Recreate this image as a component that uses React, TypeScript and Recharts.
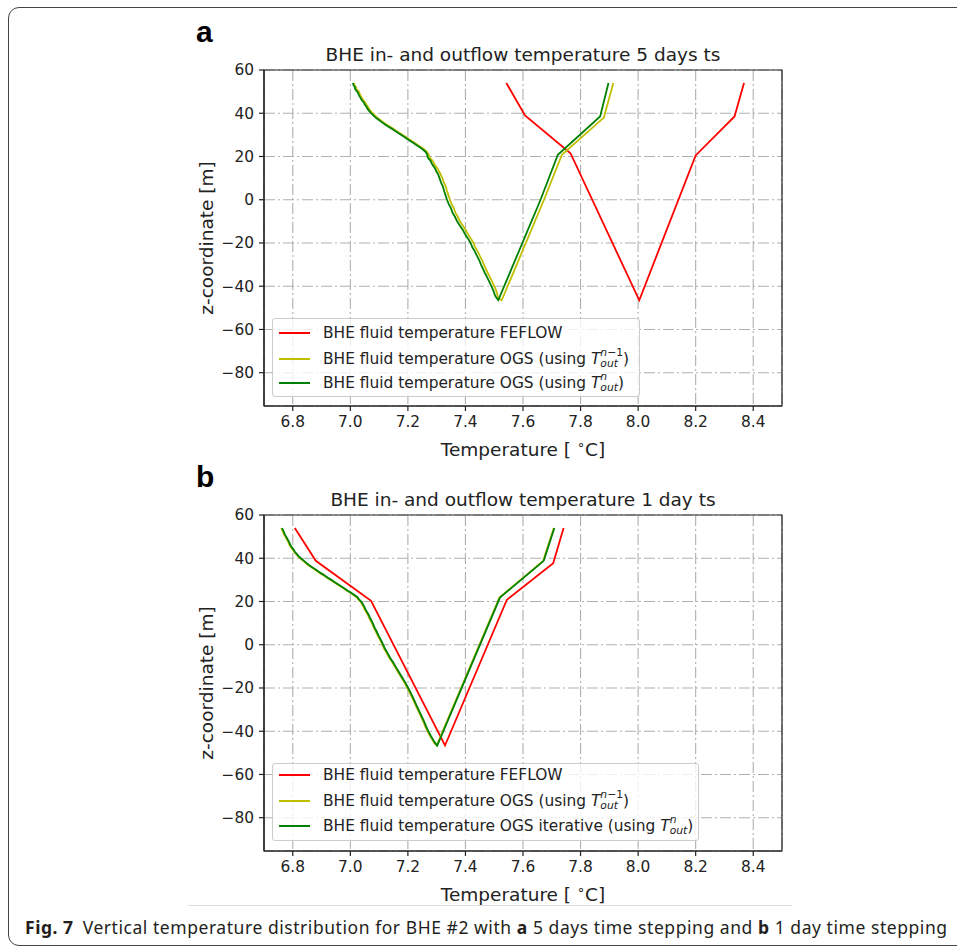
import React from 'react';
import { LineChart, Line, XAxis, YAxis, CartesianGrid, ReferenceArea } from 'recharts';

const xTicks = [6.8, 7.0, 7.2, 7.4, 7.6, 7.8, 8.0, 8.2, 8.4];
const yTicks = [-80, -60, -40, -20, 0, 20, 40, 60];
const xDomain = [6.7, 8.5];
const yDomain = [-95.4, 60];

// Panel a (5 days ts)
const feflowA = [
  { t: 7.542, z: 54 }, { t: 7.607, z: 39 }, { t: 7.765, z: 21.5 }, { t: 8.004, z: -46.5 },
  { t: 8.2, z: 20.5 }, { t: 8.335, z: 38.5 }, { t: 8.368, z: 54 },
];
const ogsIterA = [
  { t: 7.009, z: 54 }, { t: 7.011, z: 53 }, { t: 7.016, z: 52 }, { t: 7.017, z: 51 }, { t: 7.024, z: 50 },
  { t: 7.028, z: 49 }, { t: 7.031, z: 48 }, { t: 7.036, z: 47 }, { t: 7.04, z: 46 }, { t: 7.047, z: 45 },
  { t: 7.05, z: 44 }, { t: 7.056, z: 43 }, { t: 7.06, z: 42 }, { t: 7.066, z: 41 }, { t: 7.072, z: 40 },
  { t: 7.08, z: 39 }, { t: 7.088, z: 38 }, { t: 7.098, z: 37 }, { t: 7.108, z: 36 }, { t: 7.118, z: 35 },
  { t: 7.13, z: 34 }, { t: 7.142, z: 33 }, { t: 7.153, z: 32 }, { t: 7.165, z: 31 }, { t: 7.176, z: 30 },
  { t: 7.188, z: 29 }, { t: 7.199, z: 28 }, { t: 7.21, z: 27 }, { t: 7.222, z: 26 }, { t: 7.233, z: 25 },
  { t: 7.244, z: 24 }, { t: 7.254, z: 23 }, { t: 7.262, z: 22 }, { t: 7.267, z: 21 }, { t: 7.268, z: 20 },
  { t: 7.272, z: 19 }, { t: 7.279, z: 18 }, { t: 7.282, z: 17 }, { t: 7.286, z: 16 }, { t: 7.292, z: 15 },
  { t: 7.296, z: 14 }, { t: 7.299, z: 13 }, { t: 7.304, z: 12 }, { t: 7.307, z: 11 }, { t: 7.31, z: 10 },
  { t: 7.315, z: 8 }, { t: 7.322, z: 6 }, { t: 7.326, z: 4 }, { t: 7.331, z: 2 }, { t: 7.336, z: 0 },
  { t: 7.342, z: -2 }, { t: 7.35, z: -4 }, { t: 7.355, z: -6 }, { t: 7.364, z: -8 }, { t: 7.371, z: -10 },
  { t: 7.381, z: -12 }, { t: 7.391, z: -14 }, { t: 7.399, z: -16 }, { t: 7.409, z: -18 }, { t: 7.418, z: -20 },
  { t: 7.424, z: -22 }, { t: 7.433, z: -24 }, { t: 7.44, z: -26 }, { t: 7.448, z: -28 }, { t: 7.454, z: -30 },
  { t: 7.461, z: -32 }, { t: 7.468, z: -34 }, { t: 7.476, z: -36 }, { t: 7.483, z: -38 }, { t: 7.49, z: -40 },
  { t: 7.497, z: -42 }, { t: 7.502, z: -44 }, { t: 7.506, z: -45 }, { t: 7.514, z: -46.5 },
  { t: 7.661, z: 0 }, { t: 7.721, z: 20.8 }, { t: 7.868, z: 38.5 }, { t: 7.897, z: 54 },
];
const ogsPrevA = [
  { t: 7.012, z: 54 }, { t: 7.015, z: 53 }, { t: 7.02, z: 52 }, { t: 7.022, z: 51 }, { t: 7.029, z: 50 },
  { t: 7.033, z: 49 }, { t: 7.036, z: 48 }, { t: 7.041, z: 47 }, { t: 7.045, z: 46 }, { t: 7.052, z: 45 },
  { t: 7.055, z: 44 }, { t: 7.061, z: 43 }, { t: 7.065, z: 42 }, { t: 7.071, z: 41 }, { t: 7.077, z: 40 },
  { t: 7.085, z: 39 }, { t: 7.093, z: 38 }, { t: 7.103, z: 37 }, { t: 7.113, z: 36 }, { t: 7.123, z: 35 },
  { t: 7.135, z: 34 }, { t: 7.147, z: 33 }, { t: 7.158, z: 32 }, { t: 7.17, z: 31 }, { t: 7.181, z: 30 },
  { t: 7.193, z: 29 }, { t: 7.204, z: 28 }, { t: 7.215, z: 27 }, { t: 7.227, z: 26 }, { t: 7.238, z: 25 },
  { t: 7.249, z: 24 }, { t: 7.259, z: 23 }, { t: 7.267, z: 22 }, { t: 7.272, z: 21 }, { t: 7.274, z: 20 },
  { t: 7.279, z: 19 }, { t: 7.286, z: 18 }, { t: 7.29, z: 17 }, { t: 7.294, z: 16 }, { t: 7.3, z: 15 },
  { t: 7.305, z: 14 }, { t: 7.308, z: 13 }, { t: 7.313, z: 12 }, { t: 7.316, z: 11 }, { t: 7.32, z: 10 },
  { t: 7.325, z: 8 }, { t: 7.332, z: 6 }, { t: 7.336, z: 4 }, { t: 7.341, z: 2 }, { t: 7.346, z: 0 },
  { t: 7.352, z: -2 }, { t: 7.36, z: -4 }, { t: 7.365, z: -6 }, { t: 7.374, z: -8 }, { t: 7.381, z: -10 },
  { t: 7.391, z: -12 }, { t: 7.401, z: -14 }, { t: 7.409, z: -16 }, { t: 7.419, z: -18 }, { t: 7.428, z: -20 },
  { t: 7.434, z: -22 }, { t: 7.443, z: -24 }, { t: 7.45, z: -26 }, { t: 7.458, z: -28 }, { t: 7.464, z: -30 },
  { t: 7.471, z: -32 }, { t: 7.478, z: -34 }, { t: 7.486, z: -36 }, { t: 7.493, z: -38 }, { t: 7.5, z: -40 },
  { t: 7.507, z: -42 }, { t: 7.511, z: -44 }, { t: 7.514, z: -45.5 }, { t: 7.526, z: -46.5 },
  { t: 7.673, z: 0 }, { t: 7.735, z: 20.8 }, { t: 7.881, z: 38 }, { t: 7.914, z: 54 },
];

// Panel b (1 day ts)
const feflowB = [
  { t: 6.807, z: 54 }, { t: 6.88, z: 38.8 }, { t: 7.072, z: 20.3 }, { t: 7.329, z: -46.6 },
  { t: 7.544, z: 20.8 }, { t: 7.705, z: 37.7 }, { t: 7.741, z: 54 },
];
const ogsIterB = [
  { t: 6.763, z: 54 }, { t: 6.766, z: 53 }, { t: 6.77, z: 52 }, { t: 6.772, z: 51 }, { t: 6.777, z: 50 },
  { t: 6.781, z: 49 }, { t: 6.785, z: 48 }, { t: 6.789, z: 47 }, { t: 6.792, z: 46 }, { t: 6.797, z: 45 },
  { t: 6.803, z: 44 }, { t: 6.807, z: 43 }, { t: 6.814, z: 42 }, { t: 6.82, z: 41 }, { t: 6.828, z: 40 },
  { t: 6.837, z: 39 }, { t: 6.846, z: 38 }, { t: 6.855, z: 37 }, { t: 6.866, z: 36 }, { t: 6.877, z: 35 },
  { t: 6.888, z: 34 }, { t: 6.899, z: 33 }, { t: 6.911, z: 32 }, { t: 6.922, z: 31 }, { t: 6.934, z: 30 },
  { t: 6.945, z: 29 }, { t: 6.957, z: 28 }, { t: 6.968, z: 27 }, { t: 6.98, z: 26 }, { t: 6.991, z: 25 },
  { t: 7.003, z: 24 }, { t: 7.014, z: 23 }, { t: 7.025, z: 22 }, { t: 7.03, z: 21 }, { t: 7.038, z: 20 },
  { t: 7.047, z: 18 }, { t: 7.054, z: 16 }, { t: 7.063, z: 14 }, { t: 7.07, z: 12 }, { t: 7.078, z: 10 },
  { t: 7.084, z: 8 }, { t: 7.092, z: 6 }, { t: 7.099, z: 4 }, { t: 7.107, z: 2 }, { t: 7.114, z: 0 },
  { t: 7.121, z: -2 }, { t: 7.13, z: -4 }, { t: 7.138, z: -6 }, { t: 7.148, z: -8 }, { t: 7.157, z: -10 },
  { t: 7.166, z: -12 }, { t: 7.175, z: -14 }, { t: 7.184, z: -16 }, { t: 7.193, z: -18 }, { t: 7.201, z: -20 },
  { t: 7.209, z: -22 }, { t: 7.216, z: -24 }, { t: 7.223, z: -26 }, { t: 7.23, z: -28 }, { t: 7.237, z: -30 },
  { t: 7.244, z: -32 }, { t: 7.251, z: -34 }, { t: 7.258, z: -36 }, { t: 7.264, z: -38 }, { t: 7.271, z: -40 },
  { t: 7.279, z: -42 }, { t: 7.288, z: -44 }, { t: 7.295, z: -45.5 }, { t: 7.302, z: -46.6 },
  { t: 7.52, z: 21.8 }, { t: 7.672, z: 38.8 }, { t: 7.709, z: 54 },
];
const ogsPrevB = [
  { t: 6.76, z: 54 }, { t: 6.763, z: 53 }, { t: 6.767, z: 52 }, { t: 6.769, z: 51 }, { t: 6.774, z: 50 },
  { t: 6.778, z: 49 }, { t: 6.782, z: 48 }, { t: 6.786, z: 47 }, { t: 6.789, z: 46 }, { t: 6.794, z: 45 },
  { t: 6.8, z: 44 }, { t: 6.804, z: 43 }, { t: 6.811, z: 42 }, { t: 6.817, z: 41 }, { t: 6.825, z: 40 },
  { t: 6.834, z: 39 }, { t: 6.843, z: 38 }, { t: 6.852, z: 37 }, { t: 6.863, z: 36 }, { t: 6.874, z: 35 },
  { t: 6.885, z: 34 }, { t: 6.896, z: 33 }, { t: 6.908, z: 32 }, { t: 6.919, z: 31 }, { t: 6.931, z: 30 },
  { t: 6.942, z: 29 }, { t: 6.954, z: 28 }, { t: 6.965, z: 27 }, { t: 6.977, z: 26 }, { t: 6.988, z: 25 },
  { t: 7.0, z: 24 }, { t: 7.011, z: 23 }, { t: 7.022, z: 22 }, { t: 7.027, z: 21 }, { t: 7.035, z: 20 },
  { t: 7.044, z: 18 }, { t: 7.051, z: 16 }, { t: 7.06, z: 14 }, { t: 7.067, z: 12 }, { t: 7.075, z: 10 },
  { t: 7.081, z: 8 }, { t: 7.089, z: 6 }, { t: 7.096, z: 4 }, { t: 7.104, z: 2 }, { t: 7.111, z: 0 },
  { t: 7.118, z: -2 }, { t: 7.127, z: -4 }, { t: 7.135, z: -6 }, { t: 7.145, z: -8 }, { t: 7.154, z: -10 },
  { t: 7.163, z: -12 }, { t: 7.172, z: -14 }, { t: 7.181, z: -16 }, { t: 7.19, z: -18 }, { t: 7.198, z: -20 },
  { t: 7.206, z: -22 }, { t: 7.213, z: -24 }, { t: 7.22, z: -26 }, { t: 7.227, z: -28 }, { t: 7.234, z: -30 },
  { t: 7.241, z: -32 }, { t: 7.248, z: -34 }, { t: 7.255, z: -36 }, { t: 7.261, z: -38 }, { t: 7.268, z: -40 },
  { t: 7.276, z: -42 }, { t: 7.285, z: -44 }, { t: 7.292, z: -45.5 }, { t: 7.3, z: -46.6 },
  { t: 7.518, z: 21.8 }, { t: 7.67, z: 38.8 }, { t: 7.707, z: 54 },
];

const titleA = 'BHE in- and outflow temperature 5 days ts';
const titleB = 'BHE in- and outflow temperature 1 day ts';
const xLabel = 'Temperature [ ';
const yLabel = 'z-coordinate [m]';
const legendFeflow = 'BHE fluid temperature FEFLOW';
const legendPrev = 'BHE fluid temperature OGS (using ';
const legendIterA = 'BHE fluid temperature OGS (using ';
const legendIterB = 'BHE fluid temperature OGS iterative (using ';

const RED = '#ff0000';
const YEL = '#bfbf00';
const GRN = '#008000';
const FONT = '"DejaVu Sans", sans-serif';

const fmtY = (v: number) => (v < 0 ? '\u2212' + Math.abs(v) : String(v));
const fmtX = (v: number) => v.toFixed(1);

function TOut({ prev }: { prev: boolean }) {
  return (
    <span style={{ display: 'inline-flex', alignItems: 'center' }}>
      <i>T</i>
      <span style={{ display: 'inline-flex', flexDirection: 'column', fontSize: '0.7em', lineHeight: '11px', marginTop: -2 }}>
        <span>
          <i>n</i>
          {prev ? '\u22121' : ''}
        </span>
        <span style={{ fontStyle: 'italic' }}>out</span>
      </span>
      <span>)</span>
    </span>
  );
}

function LegendBox({ left, top, width, height, rowTops, iterLabel }: any) {
  const items = [
    { color: RED, node: <span>{legendFeflow}</span> },
    { color: YEL, node: <span style={{ display: 'inline-flex', alignItems: 'center', whiteSpace: 'pre' }}>{legendPrev}<TOut prev={true} /></span> },
    { color: GRN, node: <span style={{ display: 'inline-flex', alignItems: 'center', whiteSpace: 'pre' }}>{iterLabel}<TOut prev={false} /></span> },
  ];
  return (
    <div
      style={{
        position: 'absolute', left, top, width, height, boxSizing: 'border-box',
        border: '1px solid #cccccc', borderRadius: 3, background: 'rgba(255,255,255,0.8)',
        fontFamily: FONT, fontSize: 15.4, color: '#222',
      }}
    >
      {items.map((it, i) => (
        <div key={i} style={{ position: 'absolute', left: 0, top: rowTops[i] - 12, height: 24, display: 'flex', alignItems: 'center', whiteSpace: 'nowrap' }}>
          <div style={{ width: 31, height: 2, background: it.color, marginLeft: 6, marginRight: 13 }} />
          {it.node}
        </div>
      ))}
    </div>
  );
}

function Panel({ top, letter, title, feflow, prev, iter, legendH, legendW, rowTops, iterLabel }: any) {
  return (
    <div style={{ position: 'absolute', left: 0, top, width: 957, height: 480 }}>
      <div style={{ position: 'absolute', left: 196, top: 15, fontFamily: '"Liberation Sans", Arial, sans-serif', fontWeight: 'bold', fontSize: 30, lineHeight: '34px' }}>{letter}</div>
      <div style={{ position: 'absolute', left: 264, width: 518, top: 43, textAlign: 'center', fontFamily: FONT, fontSize: 18.5, lineHeight: '24px', color: '#222', whiteSpace: 'nowrap' }}>{title}</div>
      <div style={{ position: 'absolute', left: 0, top: 0 }}>
        <LineChart width={957} height={480} margin={{ top: 70, right: 175, bottom: 44, left: 204 }}>
          <CartesianGrid stroke="#b0b0b0" strokeWidth={1.1} strokeDasharray="11 3 2 3" />
          <XAxis
            type="number" dataKey="t" domain={xDomain} ticks={xTicks} allowDataOverflow interval={0}
            tickFormatter={fmtX} height={30} tickSize={5} tickMargin={5}
            axisLine={{ stroke: '#222', strokeWidth: 1.2 }} tickLine={{ stroke: '#222', strokeWidth: 1.2 }}
            tick={{ fontSize: 15.4, fill: '#222', fontFamily: FONT }}
          />
          <YAxis
            type="number" dataKey="z" domain={yDomain} ticks={yTicks} allowDataOverflow interval={0}
            tickFormatter={fmtY} width={60} tickSize={5} tickMargin={5}
            axisLine={{ stroke: '#222', strokeWidth: 1.2 }} tickLine={{ stroke: '#222', strokeWidth: 1.2 }}
            tick={{ fontSize: 15.4, fill: '#222', fontFamily: FONT }}
          />
          <ReferenceArea x1={6.7} x2={8.5} y1={-95.4} y2={60} fill="none" stroke="#222" strokeWidth={1.2} ifOverflow="visible" />
          <Line data={feflow} dataKey="z" type="linear" stroke={RED} strokeWidth={1.8} dot={false} isAnimationActive={false} />
          <Line data={prev} dataKey="z" type="linear" stroke={YEL} strokeWidth={1.8} dot={false} isAnimationActive={false} />
          <Line data={iter} dataKey="z" type="linear" stroke={GRN} strokeWidth={1.8} dot={false} isAnimationActive={false} />
        </LineChart>
      </div>
      <div style={{ position: 'absolute', left: 264, width: 518, top: 432, textAlign: 'center', fontFamily: FONT, fontSize: 18.5, lineHeight: '26px', color: '#222', whiteSpace: 'pre' }}>
        {xLabel}<sup style={{ fontSize: '0.7em' }}>{'\u2218'}</sup>C]
      </div>
      <div style={{ position: 'absolute', left: 207, top: 238, width: 0, height: 0 }}>
        <div style={{ position: 'absolute', left: -100, top: -13, width: 200, textAlign: 'center', transform: 'rotate(-90deg)', fontFamily: FONT, fontSize: 18.5, lineHeight: '26px', color: '#222', whiteSpace: 'nowrap' }}>
          {yLabel}
        </div>
      </div>
      <LegendBox left={272} top={318} width={legendW} height={legendH} rowTops={rowTops} iterLabel={iterLabel} />
    </div>
  );
}

export default function App() {
  return (
    <div style={{ position: 'absolute', left: 0, top: 0, width: 957, height: 951, overflow: 'hidden', background: '#fff' }}>
      <div style={{ position: 'absolute', left: 8, top: 7, width: 980, height: 939, border: '1.5px solid #444', borderRadius: 11, boxSizing: 'border-box' }} />
      <Panel top={0} letter="a" title={titleA} feflow={feflowA} prev={ogsPrevA} iter={ogsIterA}
        legendW={368} legendH={79} rowTops={[14, 40, 64]} iterLabel={legendIterA} />
      <Panel top={445} letter="b" title={titleB} feflow={feflowB} prev={ogsPrevB} iter={ogsIterB}
        legendW={427} legendH={78} rowTops={[11, 37, 62]} iterLabel={legendIterB} />
      <div style={{ position: 'absolute', left: 188, top: 905, width: 604, height: 1, background: '#dddddd' }} />
      <div style={{ position: 'absolute', left: 25, top: 916, fontFamily: '"Noto Sans", sans-serif', fontSize: 17.5, letterSpacing: 0.55, lineHeight: '22px', color: '#231f20', whiteSpace: 'nowrap' }}>
        <b style={{ marginRight: 9 }}>Fig. 7</b>Vertical temperature distribution for BHE #2 with <b>a</b> 5 days time stepping and <b>b</b> 1 day time stepping
      </div>
    </div>
  );
}
